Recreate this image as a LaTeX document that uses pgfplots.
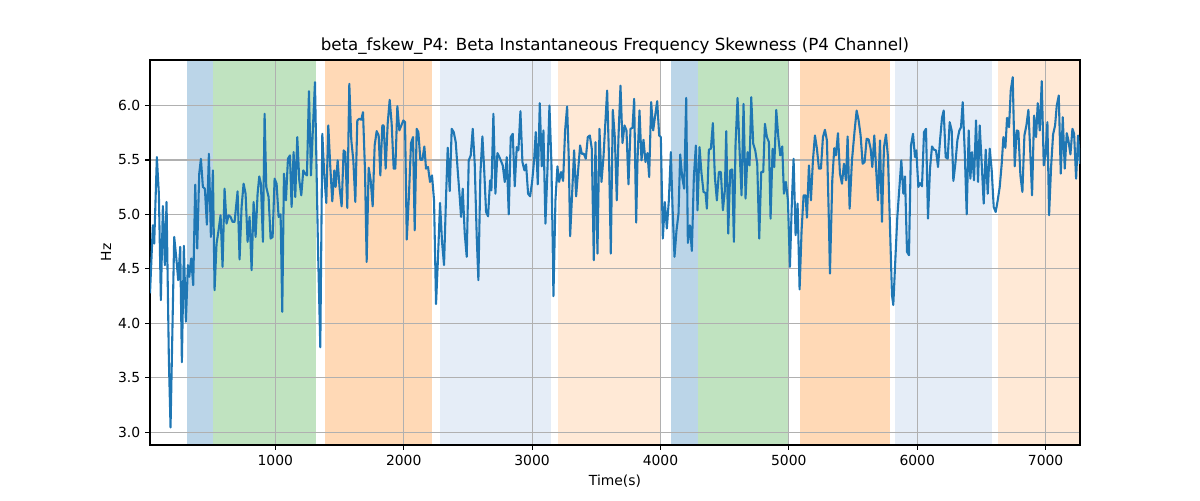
\documentclass[border=0pt]{standalone}
\usepackage{pgfplots}
\pgfplotsset{compat=1.18}
\usepackage{fontspec}
\setmainfont{DejaVu Sans}
\definecolor{tabblue}{RGB}{31,119,180}
\definecolor{spanblue}{RGB}{187,213,232}
\definecolor{spangreen}{RGB}{192,227,192}
\definecolor{spanorange}{RGB}{255,217,182}
\definecolor{spanlblue}{RGB}{229,237,247}
\definecolor{spanlorange}{RGB}{255,233,214}
\definecolor{gridgray}{RGB}{176,176,176}
\pgfplotstableread{
x y
24 4.274
46.3 4.900
56.7 4.732
77.4 5.526
93.0 5.190
108.6 4.213
124.2 5.077
139.8 4.534
152.8 5.114
171.0 3.663
184.0 3.043
212.5 4.793
228.1 4.610
243.7 4.396
259.3 4.702
272.3 3.642
287.9 4.711
303.5 4.014
319.1 4.534
329.5 4.427
345.0 4.595
360.6 4.350
376.2 5.273
391.8 4.687
407.4 5.374
420.4 5.511
436.0 5.252
451.6 5.236
467.1 4.906
482.7 5.557
498.3 4.793
513.9 5.404
526.9 4.304
542.5 4.732
558.1 4.854
573.7 4.992
589.2 4.518
604.8 5.236
620.4 4.915
636.0 4.992
651.6 4.977
667.2 4.931
682.8 4.931
706.2 5.212
721.7 4.586
737.3 5.068
752.9 5.282
768.5 5.190
784.1 4.748
799.7 4.977
815.3 4.488
830.9 5.114
846.5 4.793
862.0 5.190
875.0 5.349
888.0 5.282
903.6 4.748
916.6 5.924
929.6 5.252
947.8 5.160
963.4 4.778
979.0 4.793
994.5 5.328
1010.1 5.282
1025.7 4.977
1041.3 5.001
1054.3 4.106
1067.3 5.374
1082.9 5.129
1098.5 5.511
1114.0 5.542
1127.0 5.068
1142.6 5.572
1155.6 5.160
1171.2 5.710
1186.8 5.313
1202.4 5.175
1218.0 5.404
1231.0 5.374
1246.5 5.358
1262.1 6.131
1277.7 5.358
1293.3 5.801
1308.9 6.214
1332.3 4.702
1350.5 3.779
1366.1 5.740
1381.6 5.358
1397.2 5.105
1412.8 5.817
1428.4 5.435
1444.0 5.120
1459.6 5.404
1470.0 5.252
1485.6 5.496
1501.2 5.236
1516.7 5.074
1532.3 5.588
1545.3 5.572
1560.9 5.059
1576.5 6.199
1592.1 5.679
1607.7 5.496
1623.3 5.114
1638.8 5.863
1654.4 5.878
1670.0 5.869
1683.0 5.939
1698.6 5.404
1711.6 4.564
1727.2 5.429
1742.8 5.313
1758.4 5.074
1773.9 5.633
1789.5 5.765
1805.1 5.725
1818.1 5.358
1833.7 5.817
1844.1 5.817
1859.7 5.420
1875.3 5.832
1890.9 6.052
1906.4 5.832
1922.0 5.420
1935.0 5.420
1950.6 5.994
1966.2 5.771
1981.8 5.817
1997.4 5.863
2010.4 5.847
2024.0 4.769
2041.5 5.190
2057.1 5.655
2072.7 5.710
2085.7 4.854
2101.3 5.786
2114.3 5.756
2129.9 5.502
2145.5 5.502
2161.0 5.624
2174.0 5.420
2189.6 5.435
2205.2 5.298
2220.8 5.358
2236.4 5.129
2252.0 4.176
2267.6 4.610
2283.2 5.105
2298.7 4.748
2314.3 4.534
2329.9 5.160
2342.9 5.612
2358.5 5.215
2374.1 5.786
2389.7 5.756
2405.3 5.664
2420.8 5.404
2436.4 5.160
2446.8 4.977
2459.8 5.236
2475.4 4.824
2491.0 4.610
2506.6 5.496
2522.2 5.542
2537.8 5.786
2553.3 5.465
2568.9 4.793
2581.9 4.396
2597.5 5.374
2613.1 5.716
2626.1 5.435
2641.7 5.022
2657.3 4.983
2672.9 5.313
2683.2 5.221
2698.8 5.924
2714.4 5.190
2730.0 5.563
2745.6 5.526
2756.0 5.496
2771.6 5.450
2787.2 5.298
2802.8 5.526
2818.3 5.001
2833.9 5.710
2849.5 5.740
2865.1 5.258
2880.7 5.618
2893.7 5.588
2909.3 5.948
2924.9 5.481
2940.4 5.404
2953.4 5.459
2969.0 5.190
2984.6 5.166
3000.2 5.298
3015.8 5.496
3028.8 5.756
3044.4 5.276
3060.0 6.021
3075.5 5.441
3088.5 5.771
3104.1 4.915
3119.7 5.404
3135.3 6.000
3150.9 5.465
3166.5 4.249
3182.1 5.129
3197.6 5.441
3210.6 5.298
3226.2 5.389
3241.8 5.307
3257.4 5.771
3273.0 5.991
3286.0 5.511
3296.4 4.799
3312.0 5.190
3327.5 5.588
3343.1 5.166
3358.7 5.404
3374.3 5.633
3387.3 5.557
3402.9 5.557
3418.5 5.511
3434.1 5.710
3449.7 5.725
3465.2 5.603
3480.8 4.579
3493.8 5.664
3509.4 4.640
3525.0 5.786
3540.6 5.298
3556.2 5.526
3571.8 5.863
3584.8 6.137
3600.4 5.465
3613.3 4.640
3628.9 5.960
3644.5 5.710
3660.1 5.129
3673.1 5.710
3688.7 6.183
3704.3 5.655
3719.8 5.817
3735.4 5.771
3751.0 5.276
3766.6 5.786
3782.2 5.795
3795.2 6.061
3810.8 4.925
3821.2 5.496
3836.8 5.954
3852.3 5.496
3867.9 5.685
3883.5 5.481
3899.1 5.563
3912.1 5.343
3927.7 6.031
3943.3 5.771
3958.9 5.908
3974.5 6.040
3990.0 5.725
4003.0 5.710
4018.6 4.778
4034.2 5.114
4049.8 4.870
4065.4 5.129
4081.0 5.572
4094.0 5.068
4109.5 4.610
4125.1 4.854
4140.7 5.007
4153.7 5.551
4169.3 5.343
4184.9 5.236
4200.5 6.070
4213.5 4.738
4229.1 4.900
4244.6 4.665
4260.2 5.343
4275.8 5.633
4288.8 5.038
4304.4 5.618
4320.0 5.374
4335.6 5.206
4351.2 5.197
4361.6 5.053
4377.1 5.594
4392.7 5.603
4408.3 5.838
4423.9 5.343
4439.5 5.129
4455.1 5.389
4470.7 5.389
4486.3 5.038
4501.8 5.221
4512.2 5.765
4527.8 4.824
4543.4 5.404
4559.0 5.413
4572.0 4.748
4585.0 5.649
4600.6 6.070
4616.2 5.588
4631.7 5.175
4647.3 6.015
4662.9 5.145
4678.5 5.572
4694.1 5.450
4707.1 6.076
4722.7 5.649
4738.3 5.588
4753.9 5.465
4769.4 4.778
4785.0 5.389
4800.6 5.389
4813.6 5.832
4829.2 5.710
4844.8 5.664
4857.8 4.961
4873.4 5.603
4886.4 5.435
4902.0 5.960
4917.5 5.716
4933.1 5.542
4948.7 5.624
4961.7 5.190
4977.3 5.298
4992.9 5.129
5008.5 4.518
5024.0 5.129
5037.0 5.511
5052.6 4.809
5068.2 5.099
5083.8 4.311
5099.4 4.854
5115.0 5.175
5130.6 5.175
5141.0 4.970
5156.5 5.450
5172.1 5.129
5187.7 5.496
5203.3 5.725
5218.9 5.603
5234.5 5.420
5250.1 5.420
5265.7 5.710
5281.2 5.777
5296.8 5.679
5312.4 4.915
5320.2 4.457
5338.4 5.313
5354.0 5.609
5367.0 5.542
5382.6 5.746
5398.2 5.374
5413.8 5.282
5429.4 5.465
5444.9 5.313
5457.9 5.716
5473.5 5.053
5491.7 5.496
5512.5 5.771
5528.1 5.954
5543.6 5.863
5559.2 5.725
5574.8 5.465
5590.4 5.481
5606.0 5.695
5621.6 5.688
5637.2 5.603
5650.2 5.435
5665.8 5.725
5681.3 5.389
5694.3 5.129
5709.9 5.679
5725.5 4.931
5741.1 5.618
5756.7 5.734
5772.3 5.526
5787.9 4.885
5803.4 4.259
5813.8 4.167
5829.4 4.579
5845.0 4.977
5860.6 5.236
5876.2 5.496
5891.8 5.190
5904.8 5.349
5920.4 4.656
5935.9 4.625
5951.5 5.633
5967.1 5.740
5982.7 5.526
5993.1 5.588
6008.7 5.252
6021.7 5.288
6037.3 5.258
6052.9 5.756
6068.4 5.786
6084.0 4.961
6099.6 5.420
6115.2 5.624
6130.8 5.594
6146.4 5.588
6162.0 5.435
6177.6 5.679
6193.1 5.887
6206.1 5.954
6221.7 5.526
6237.3 5.511
6252.9 5.847
6268.5 5.771
6281.5 5.307
6297.1 5.465
6312.7 5.679
6328.2 5.771
6341.2 5.801
6354.2 6.031
6369.8 5.588
6385.4 5.001
6401.0 5.771
6414.0 5.328
6427.0 5.572
6442.5 5.313
6458.1 5.863
6473.7 5.298
6486.7 5.817
6502.3 5.465
6517.9 5.099
6533.5 5.594
6549.1 5.190
6564.7 5.603
6580.2 5.404
6595.8 5.068
6611.4 5.022
6627.0 5.129
6642.6 5.252
6658.2 5.465
6671.2 5.710
6686.8 5.612
6699.7 5.887
6715.3 5.801
6728.3 6.137
6743.9 6.260
6759.5 5.441
6775.1 5.771
6788.1 5.765
6803.7 5.358
6819.3 5.206
6834.9 5.725
6850.4 5.817
6866.0 5.960
6879.0 5.618
6894.6 5.175
6910.2 5.908
6925.8 5.710
6938.8 6.021
6954.4 5.771
6970.0 6.223
6985.5 5.450
6998.5 5.542
7014.1 5.847
7027.1 4.992
7042.7 5.435
7058.3 5.734
7073.9 5.817
7086.9 6.000
7102.5 6.092
7118.1 5.374
7133.7 5.893
7149.2 5.420
7164.8 5.746
7177.8 5.679
7193.4 5.551
7209.0 5.786
7222.0 5.740
7237.6 5.328
7253.2 5.725
7268.0 5.465
}\datatable
\begin{document}
\begin{tikzpicture}
\begin{axis}[
  set layers,
  at={(108pt,39.6pt)}, anchor=south west,
  scale only axis, width=669.6pt, height=277.2pt,
  xmin=24, xmax=7268, ymin=2.882, ymax=6.418,
  xtick={1000,2000,3000,4000,5000,6000,7000},
  ytick={3.0,3.5,4.0,4.5,5.0,5.5,6.0},
  yticklabel style={/pgf/number format/.cd, fixed, fixed zerofill, precision=1},
  /pgf/number format/assume math mode=true,
  scaled x ticks=false,
  xticklabel style={/pgf/number format/1000 sep={}},
  tick pos=left, tick align=outside,
  major tick length=3.5pt,
  every tick/.style={black, line width=0.8pt},
  axis line style={black, line width=0.8pt},
  grid=major,
  major grid style={gridgray, line width=0.8pt},
  ticklabel style={font=\fontsize{10}{12}\selectfont},
  title={beta\_fskew\_P4: Beta Instantaneous Frequency Skewness (P4 Channel)},
  title style={font=\fontsize{12}{14}\selectfont, at={(axis description cs:0.5,1.036)}, anchor=center, yshift=-6pt},
  xlabel={Time(s)},
  xlabel style={font=\fontsize{10}{12}\selectfont, at={(axis description cs:0.5,-0.094)}, anchor=center},
  ylabel={Hz},
  ylabel style={font=\fontsize{10}{12}\selectfont, at={(axis description cs:-0.0473,0.5)}, anchor=center},
]
\addplot[on layer=axis background, fill=spanblue, draw=none] coordinates {(311,2.882) (311,6.418) (514,6.418) (514,2.882)} -- cycle;
\addplot[on layer=axis background, fill=spangreen, draw=none] coordinates {(514,2.882) (514,6.418) (1320,6.418) (1320,2.882)} -- cycle;
\addplot[on layer=axis background, fill=spanorange, draw=none] coordinates {(1384,2.882) (1384,6.418) (2224,6.418) (2224,2.882)} -- cycle;
\addplot[on layer=axis background, fill=spanlblue, draw=none] coordinates {(2280,2.882) (2280,6.418) (3151,6.418) (3151,2.882)} -- cycle;
\addplot[on layer=axis background, fill=spanlorange, draw=none] coordinates {(3199,2.882) (3199,6.418) (4006,6.418) (4006,2.882)} -- cycle;
\addplot[on layer=axis background, fill=spanblue, draw=none] coordinates {(4081,2.882) (4081,6.418) (4294,6.418) (4294,2.882)} -- cycle;
\addplot[on layer=axis background, fill=spangreen, draw=none] coordinates {(4294,2.882) (4294,6.418) (5002,6.418) (5002,2.882)} -- cycle;
\addplot[on layer=axis background, fill=spanorange, draw=none] coordinates {(5086,2.882) (5086,6.418) (5787,6.418) (5787,2.882)} -- cycle;
\addplot[on layer=axis background, fill=spanlblue, draw=none] coordinates {(5826,2.882) (5826,6.418) (6580,6.418) (6580,2.882)} -- cycle;
\addplot[on layer=axis background, fill=spanlorange, draw=none] coordinates {(6631,2.882) (6631,6.418) (7268,6.418) (7268,2.882)} -- cycle;
\addplot[tabblue, line width=1.5pt, line join=round, mark=none] table[x=x,y=y] {\datatable};
\end{axis}
\path (0,0) rectangle (864pt,360pt);
\end{tikzpicture}
\end{document}
